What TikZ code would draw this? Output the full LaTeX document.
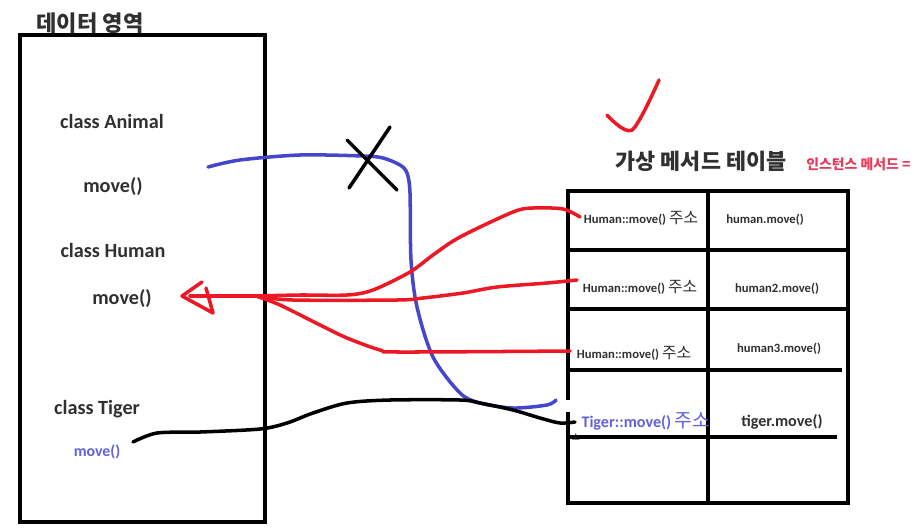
\documentclass[tikz,border=0pt]{standalone}
\usepackage{fontspec}
\setmainfont{Carlito}
\newfontfamily\kr{Noto Sans CJK KR}
\usetikzlibrary{positioning}
\definecolor{penred}{RGB}{236,24,36}
\definecolor{penblue}{RGB}{70,70,205}
\definecolor{txtblue}{RGB}{96,96,218}
\definecolor{txtgray}{RGB}{48,48,48}
\definecolor{notepink}{RGB}{232,60,92}

\begin{document}
\begin{tikzpicture}[
  x=0.02cm,y=-0.02cm,
  frame/.style={line width=2.3pt},
  pen/.style={line width=2pt,line cap=round,line join=round},
  lbl/.style={anchor=base,inner sep=0pt,text=txtgray,font=\fontsize{11.5}{13}\selectfont\bfseries},
  cellt/.style={anchor=base,inner sep=0pt,text=txtgray,font=\fontsize{7.2}{8}\selectfont\bfseries}
]
\useasboundingbox (0,0) rectangle (914,529);

% Data area with the three classes.
\draw[frame] (20,35) rectangle (265,522);
\node[text=txtgray,font=\kr\fontsize{12.6}{14}\selectfont\bfseries] (dtitle) at (90,23) {데이터 영역};
\node[lbl] (animal) at (112,128) {class Animal};
\node[lbl] (amove) at (113,192) {move()};
\node[lbl] (human) at (113,257) {class Human};
\node[lbl] (hmove) at (122,304) {move()};
\node[lbl] (tiger) at (97,414) {class Tiger};
\node[lbl,text=txtblue,font=\fontsize{9}{10}\selectfont\bfseries] (tmove) at (97,456) {move()};

% Virtual method table.
\node[text=txtgray,font=\kr\fontsize{12.4}{14}\selectfont\bfseries] (vtitle) at (701,161) {가상 메서드 테이블};
\node[anchor=west,inner sep=0pt,text=notepink,font=\kr\fontsize{7.9}{9}\selectfont\bfseries] (inote) at (806,164) {인스턴스 메서드 =};
\draw[frame] (568,191) rectangle (848,503);
\draw[frame] (708,191) -- (708,503);
\foreach \y in {250,309} \draw[frame] (568,\y) -- (848,\y);
\foreach \y/\xe in {370/842,437/837} \draw[frame] (568,\y) -- (\xe,\y);
\fill[white] (566,400) rectangle (706,412);

\node[cellt] (addr1) at (641,223) {Human::move() {\kr\fontsize{9}{10}\selectfont\mdseries 주소}};
\node[cellt] (addr2) at (640,292) {Human::move() {\kr\fontsize{9}{10}\selectfont\mdseries 주소}};
\node[cellt] (addr3) at (634,358) {Human::move() {\kr\fontsize{9}{10}\selectfont\mdseries 주소}};
\node[cellt,text=txtblue,font=\fontsize{9.2}{10}\selectfont\bfseries] (addr4) at (646,427) {Tiger::move() {\kr\fontsize{11}{12}\selectfont\mdseries 주소}};
\node[cellt] (call1) at (765,223) {human.move()};
\node[cellt] (call2) at (777,292) {human2.move()};
\node[cellt] (call3) at (779,352) {human3.move()};
\node[cellt,font=\fontsize{9.2}{10}\selectfont\bfseries] (call4) at (782,426) {tiger.move()};
\node[inner sep=0pt,text=txtgray,font=\kr\fontsize{5}{6}\selectfont] (stray) at (576,437) {소};

% Hand-drawn connectors.
\coordinate (hub) at (256,296);
\coordinate (atip) at (182,296);
\coordinate (bstart) at (208,167);
\coordinate (bend) at (556,400);
\coordinate (kstart) at (133,442);
\coordinate (kend) at (575,422);
\coordinate (r1) at (580,217);
\coordinate (r2) at (577,280);
\coordinate (r3) at (570,351);

\draw[pen,penblue] plot[smooth,tension=0.5] coordinates {(bstart) (240,160) (300,155) (363,156) (383,158) (400,165) (407,173) (410,193) (411,260) (417,307) (433,357) (460,393) (480,403) (513,408) (547,405) (bend)};
\draw[pen,black] (347,140) -- (397,190);
\draw[pen,black] (390,127) -- (349,188);
\draw[pen,black] plot[smooth,tension=0.5] coordinates {(kstart) (157,433) (200,432) (260,429) (287,423) (313,413) (347,403) (390,400) (460,400) (480,403) (513,410) (540,418) (560,423) (kend)};

\draw[pen,penred] (hub) -- (190,296);
\draw[pen,penred] (202,282) -- (atip) -- (213,313) -- (206,288);
\draw[pen,penred] plot[smooth,tension=0.5] coordinates {(hub) (300,295) (347,295) (373,290) (410,272) (433,255) (460,237) (513,212) (533,208) (563,209) (r1)};
\draw[pen,penred] plot[smooth,tension=0.5] coordinates {(hub) (293,300) (397,300) (423,298) (463,293) (497,287) (547,283) (r2)};
\draw[pen,penred] plot[smooth,tension=0.5] coordinates {(hub) (280,305) (320,325) (347,338) (380,350) (400,352) (r3)};
\draw[pen,penred] plot[smooth,tension=0.5] coordinates {(607,115) (632,130) (659,80)};
\end{tikzpicture}
\end{document}
